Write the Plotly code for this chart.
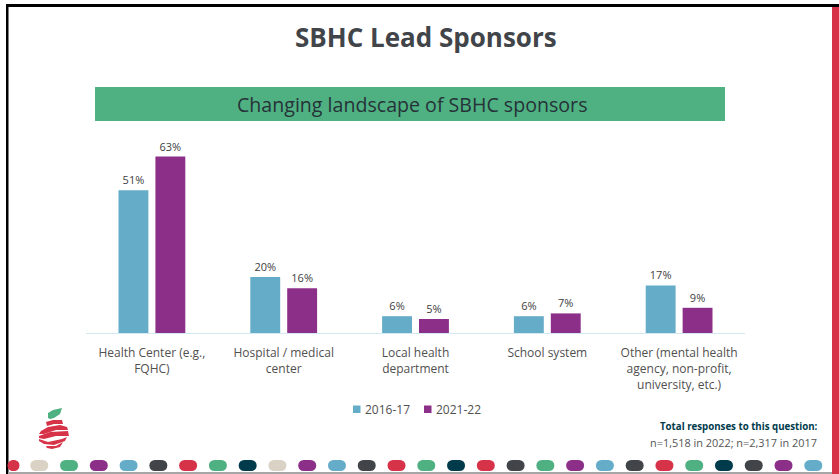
import plotly.graph_objects as go

categories = ["Health Center (e.g.,<br>FQHC)", "Hospital / medical<br>center", "Local health<br>department",
              "School system", "Other (mental health<br>agency, non-profit,<br>university, etc.)"]
values_2017 = [51, 20, 6, 6, 17]
values_2022 = [63, 16, 5, 7, 9]
series_names = ["2016-17", "2021-22"]
title_text = "SBHC Lead Sponsors"
banner_text = "Changing landscape of SBHC sponsors"
note_head = "Total responses to this question:"
note_body = "n=1,518 in 2022; n=2,317 in 2017"

W, H = 839, 474
BLUE, PURPLE, GREEN, RED, DARK, NAVY, TAN = "#65ACC9", "#8C2F88", "#4FB182", "#D63349", "#414549", "#003B4C", "#DAD2C4"
FONT = "Open Sans"

fig = go.Figure()
for name, vals, col in [(series_names[0], values_2017, BLUE), (series_names[1], values_2022, PURPLE)]:
    fig.add_bar(x=categories, y=vals, name=name, marker=dict(color=col, line=dict(width=0)),
                text=[f"{v}%" for v in vals], textposition="outside", cliponaxis=False,
                textfont=dict(family=FONT, size=11, color="#404040"))

def px(x): return x / W
def py(y): return 1 - y / H

shapes = []
def rect(x0, y0, x1, y1, col):
    shapes.append(dict(type="rect", xref="paper", yref="paper", x0=px(x0), x1=px(x1), y0=py(y0), y1=py(y1),
                       fillcolor=col, line=dict(width=0), layer="below"))
def path(points, col):
    d = "M" + " L".join(f"{px(a):.5f},{py(b):.5f}" for a, b in points) + " Z"
    shapes.append(dict(type="path", xref="paper", yref="paper", path=d, fillcolor=col, line=dict(width=0)))

rect(6, 4, 839, 7, "#000000")
rect(6, 4, 8.5, 474, "#000000")
rect(832, 7, 839, 474, RED)
rect(8, 472, 832, 474, "#A6A6A6")
rect(95, 87, 725, 121, GREEN)
rect(353, 405.5, 360.5, 413, BLUE)
rect(424, 405.5, 431.5, 413, PURPLE)

pill_colors = [RED, TAN, GREEN, PURPLE, BLUE, DARK, RED, GREEN, NAVY, TAN, PURPLE, BLUE, DARK, RED,
               GREEN, NAVY, RED, DARK, GREEN, PURPLE, BLUE, DARK, RED, GREEN, NAVY, DARK, PURPLE, BLUE]
for i, col in enumerate(pill_colors):
    cx = 9.5 + 29.77 * i
    x0, x1 = max(cx - 9, 8.5), cx + 9
    shapes.append(dict(type="rect", xref="paper", yref="paper", x0=px(x0 + 5.5), x1=px(x1 - 5.5),
                       y0=py(471), y1=py(460), fillcolor=col, line=dict(width=0)))
    for c in (x0 + 5.5, x1 - 5.5):
        shapes.append(dict(type="circle", xref="paper", yref="paper", x0=px(c - 5.5), x1=px(c + 5.5),
                           y0=py(471), y1=py(460), fillcolor=col, line=dict(width=0)))

# apple logo
path([(48, 418), (48, 413), (53, 410), (62, 408), (60, 414), (54, 418), (50, 419)], GREEN)
path([(46, 422), (53, 420), (62, 420), (63, 424), (54, 424), (47, 426)], RED)
path([(41, 431), (48, 427), (60, 425), (67, 427), (68, 430), (56, 430), (44, 434), (39, 434)], RED)
path([(39, 436), (50, 432), (68, 431), (69, 436), (56, 436), (44, 439), (39, 438)], RED)
path([(39, 439), (48, 442), (62, 439), (67, 437), (65, 441), (54, 445), (44, 444), (39, 441)], RED)
path([(46, 446), (56, 446), (63, 442), (60, 447), (52, 449), (47, 448)], RED)

def note(x, y, text, size, color, anchor="center", bold=False):
    fig.add_annotation(xref="paper", yref="paper", x=px(x), y=py(y), text=f"<b>{text}</b>" if bold else text,
                       showarrow=False, xanchor=anchor, yanchor="middle",
                       font=dict(family=FONT, size=size, color=color))

note(425.5, 37, title_text, 26, DARK, bold=True)
note(412, 104, banner_text, 19.6, "#263238")
note(819.5, 426, note_head, 9.7, NAVY, "right", bold=True)
note(818.5, 442, note_body, 10.9, "#555555", "right")
note(362.5, 409, series_names[0], 12, "#505050", "left")
note(433.5, 409, series_names[1], 12, "#505050", "left")

fig.update_layout(
    width=W, height=H, autosize=False, margin=dict(l=0, r=0, t=0, b=0),
    paper_bgcolor="white", plot_bgcolor="white", barmode="group", bargap=0.44, bargroupgap=0.19,
    shapes=shapes, showlegend=False,
    xaxis=dict(domain=[px(86), px(745)], showline=True, linecolor="#D3E9F2", linewidth=1,
               ticks="outside", ticklen=9, tickcolor="rgba(255,255,255,0)",
               tickangle=0, tickfont=dict(family=FONT, size=12, color="#505050"), showgrid=False, zeroline=False),
    yaxis=dict(domain=[py(333), py(130)], range=[0, 72.5], visible=False, showgrid=False, zeroline=False),
)

fig.write_html("out.html", config={"displayModeBar": False},
               post_script="document.body.style.margin='0';")
